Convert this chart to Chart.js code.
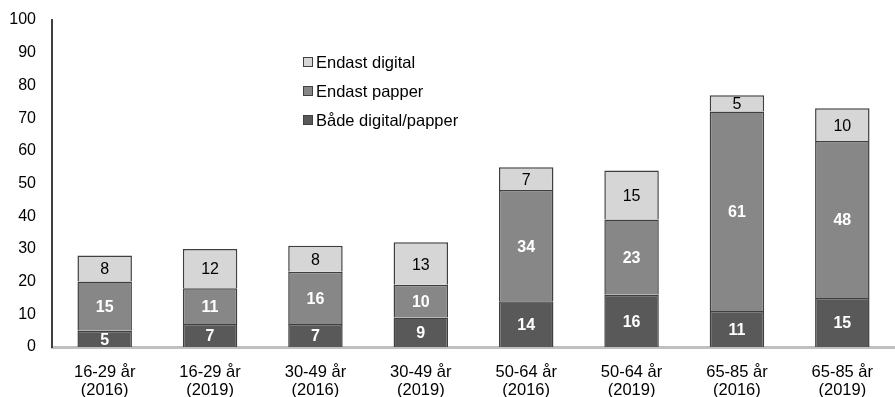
<!DOCTYPE html>
<html><head><meta charset="utf-8">
<script src="https://cdn.jsdelivr.net/npm/chart.js@4"></script>
<style>html,body{margin:0;padding:0;background:#fff}#wrap{width:895px;height:397px}</style>
</head><body><div id="wrap"><canvas id="c" width="895" height="397"></canvas></div>
<script>
const categories = [["16-29 år","(2016)"],["16-29 år","(2019)"],["30-49 år","(2016)"],["30-49 år","(2019)"],["50-64 år","(2016)"],["50-64 år","(2019)"],["65-85 år","(2016)"],["65-85 år","(2019)"]];
const bothValues = [5,7,7,9,14,16,11,15];
const paperValues = [15,11,16,10,34,23,61,48];
const digitalValues = [8,12,8,13,7,15,5,10];
const yTicks = [0,10,20,30,40,50,60,70,80,90,100];
const FONT = "'Liberation Sans', Arial, sans-serif";

const valueLabels = {
  id:'valueLabels',
  afterDatasetsDraw(chart){
    const ctx = chart.ctx;
    chart.data.datasets.forEach((ds,i)=>{
      const meta = chart.getDatasetMeta(i);
      meta.data.forEach((bar,j)=>{
        const v = ds.data[j];
        const y = (bar.y + bar.base)/2;
        ctx.save();
        ctx.font = (ds.labelBold?'bold ':'') + '16px ' + FONT;
        ctx.fillStyle = ds.labelColor;
        ctx.textAlign='center'; ctx.textBaseline='middle';
        ctx.fillText(String(v), bar.x, y+1.5);
        ctx.restore();
      });
    });
  }
};
const insideLegend = {
  id:'insideLegend',
  afterDraw(chart){
    const ctx = chart.ctx;
    const ds = chart.data.datasets.slice().reverse();
    const x0 = 303, y0 = 62, dy = 29;
    ds.forEach((d,k)=>{
      const y = y0 + k*dy;
      ctx.save();
      ctx.fillStyle = d.backgroundColor;
      ctx.strokeStyle = '#404040'; ctx.lineWidth = 1;
      ctx.fillRect(x0, y-5, 10, 10);
      ctx.strokeRect(x0+0.5, y-4.5, 9, 9);
      ctx.fillStyle = '#000';
      ctx.font = '16.5px ' + FONT;
      ctx.textAlign='left'; ctx.textBaseline='middle';
      ctx.fillText(d.label, x0+13, y+1);
      ctx.restore();
    });
  }
};

new Chart(document.getElementById('c'), {
  type:'bar',
  data:{
    labels: categories,
    datasets:[
      {label:'Både digital/papper', data: bothValues, backgroundColor:'#595959', borderColor:'#3f3f3f', borderWidth:1.5, labelColor:'#fff', labelBold:true},
      {label:'Endast papper', data: paperValues, backgroundColor:'#878787', borderColor:'#3f3f3f', borderWidth:1.5, labelColor:'#fff', labelBold:true},
      {label:'Endast digital', data: digitalValues, backgroundColor:'#d6d6d6', borderColor:'#3f3f3f', borderWidth:1.5, labelColor:'#000', labelBold:false}
    ]
  },
  options:{
    responsive:false, animation:false,
    layout:{padding:{top:20,right:-7,left:0,bottom:0}},
    datasets:{bar:{categoryPercentage:1, barPercentage:0.517}},
    plugins:{legend:{display:false}, tooltip:{enabled:false}},
    scales:{
      x:{stacked:true, grid:{display:false, drawTicks:false}, border:{color:'#c0c0c0', width:3},
         ticks:{color:'#000', font:{family:FONT,size:16.5,lineHeight:1.1}, padding:16, maxRotation:0, autoSkip:false},
         afterFit(s){ s.height = 50; s.paddingLeft = 0; s.paddingRight = 0; }},
      y:{stacked:true, min:0, max:100, grid:{display:false, drawTicks:false}, border:{color:'#404040', width:2},
         afterBuildTicks(s){ s.ticks = yTicks.map(v=>({value:v})); },
         ticks:{color:'#000', font:{family:FONT,size:16}, padding:16},
         afterFit(s){ s.width = 52; s.paddingTop = 0; s.paddingBottom = 0; }}
    }
  },
  plugins:[valueLabels, insideLegend]
});
</script></body></html>
